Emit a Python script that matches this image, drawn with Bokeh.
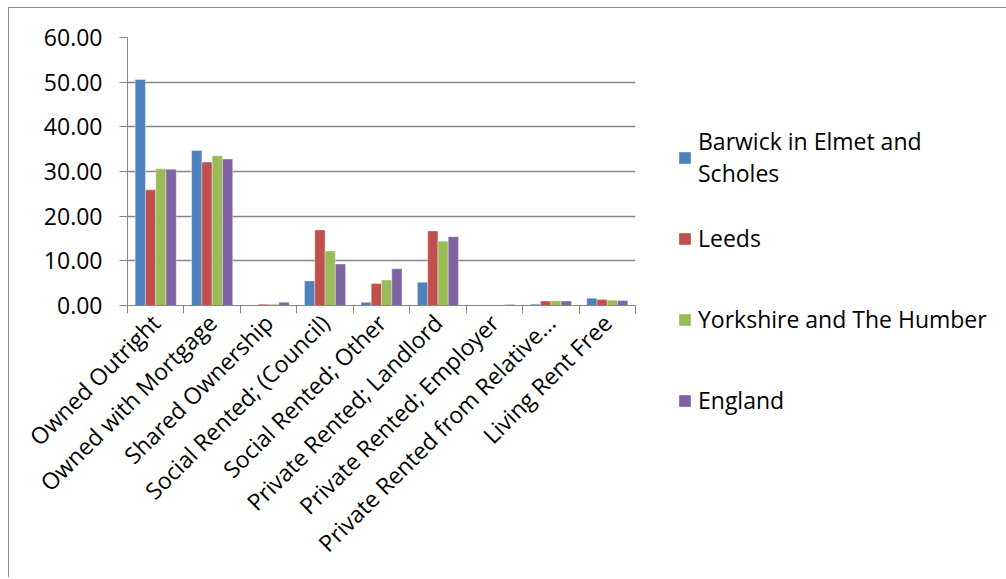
import math
from bokeh.plotting import figure
from bokeh.models import (Range1d, FixedTicker, Legend, LegendItem, ColumnDataSource,
                          NumeralTickFormatter, InlineStyleSheet)
from bokeh.transform import dodge
from bokeh.embed import file_html
from bokeh.resources import INLINE

categories = ["Owned Outright", "Owned with Mortgage", "Shared Ownership",
              "Social Rented; (Council)", "Social Rented; Other",
              "Private Rented; Landlord", "Private Rented; Employer",
              "Private Rented from Relative...", "Living Rent Free"]
series_names = ["Barwick in Elmet and\nScholes", "Leeds",
                "Yorkshire and The Humber", "England"]
barwick = [50.6, 34.7, 0.1, 5.5, 0.7, 5.2, 0.0, 0.3, 1.65]
leeds = [25.9, 32.1, 0.3, 16.9, 4.9, 16.7, 0.1, 1.0, 1.35]
yorkshire = [30.6, 33.5, 0.3, 12.2, 5.7, 14.4, 0.1, 1.05, 1.2]
england = [30.5, 32.8, 0.7, 9.3, 8.2, 15.4, 0.2, 1.0, 1.1]
y_ticks = [0, 10, 20, 30, 40, 50, 60]

colors = ["#4F81BD", "#C0504D", "#9BBB59", "#8064A2"]
FONT = "Open Sans"
FS = "23px"
GRAY = "#868686"

n = len(categories)
src = ColumnDataSource(dict(pos=list(range(n)), s0=barwick, s1=leeds,
                            s2=yorkshire, s3=england))

p = figure(frame_width=508, frame_height=268,
           x_range=Range1d(-0.5, n - 0.5), y_range=Range1d(0, 60),
           output_backend="svg", toolbar_location=None,
           min_border_left=118, min_border_top=29,
           min_border_right=369, min_border_bottom=272,
           margin=(7, 0, 0, 8))
p.stylesheets = [InlineStyleSheet(
    css=":host{border-top:1px solid #8c8c8c;border-left:1px solid #8c8c8c;}")]
p.outline_line_color = None
p.background_fill_color = "white"
p.border_fill_color = "white"

bw = 0.182
offsets = [-1.5 * bw, -0.5 * bw, 0.5 * bw, 1.5 * bw]
items = []
for k, (col, name) in enumerate(zip(["s0", "s1", "s2", "s3"], series_names)):
    r = p.vbar(x=dodge("pos", offsets[k], range=p.x_range), top=col, bottom=0,
               width=bw, source=src, fill_color=colors[k],
               line_color="white", line_alpha=0.35, line_width=1)
    items.append(LegendItem(label=name, renderers=[r]))

# x axis
xa = p.xaxis[0]
xa.ticker = FixedTicker(ticks=list(range(n)), minor_ticks=[i - 0.5 for i in range(n + 1)])
xa.major_label_overrides = {i: c for i, c in enumerate(categories)}
xa.major_tick_out = 0
xa.major_tick_in = 0
xa.minor_tick_out = 8
xa.minor_tick_in = 0
xa.minor_tick_line_color = GRAY
xa.axis_line_color = GRAY
xa.major_label_orientation = math.pi / 4
xa.major_label_text_font = FONT
xa.major_label_text_font_size = FS
xa.major_label_text_color = "#000000"
xa.major_label_standoff = 5

ya = p.yaxis[0]
ya.ticker = FixedTicker(ticks=y_ticks)
ya.formatter = NumeralTickFormatter(format="0.00")
ya.major_tick_out = 8
ya.major_tick_in = 0
ya.minor_tick_line_color = None
ya.major_tick_line_color = GRAY
ya.axis_line_color = GRAY
ya.major_label_text_font = FONT
ya.major_label_text_font_size = FS
ya.major_label_text_color = "#000000"
ya.major_label_standoff = 17

p.xgrid.visible = False
p.ygrid.grid_line_color = GRAY
p.ygrid.grid_line_width = 1.3

legend = Legend(items=items, location=(42, -127), orientation="vertical",
                glyph_width=15, glyph_height=15, label_standoff=6, spacing=17,
                label_height=64, padding=0, margin=0, border_line_color=None,
                background_fill_alpha=0, label_text_font=FONT,
                label_text_font_size=FS, label_text_color="#000000",
                label_text_line_height=1.6)
p.add_layout(legend, "right")

open("out.html", "w").write(file_html(p, INLINE))
